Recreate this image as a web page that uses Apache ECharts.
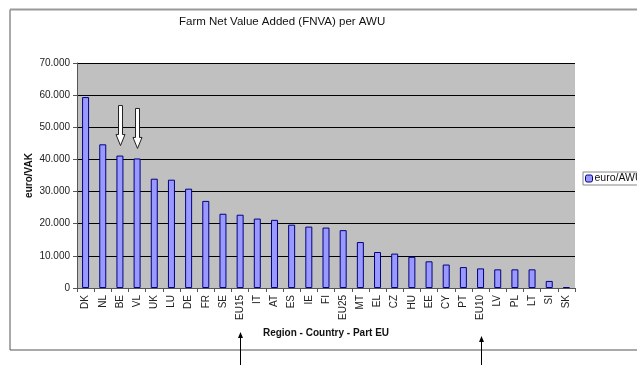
<!DOCTYPE html>
<html>
<head>
<meta charset="utf-8">
<script src="https://cdn.jsdelivr.net/npm/echarts@6/dist/echarts.min.js"></script>
<style>html,body{margin:0;padding:0;background:#fff;}#c{width:637px;height:365px;}</style>
</head>
<body>
<div id="c"></div>
<script>
const categories = ['DK','NL','BE','VL','UK','LU','DE','FR','SE','EU15','IT','AT','ES','IE','FI','EU25','MT','EL','CZ','HU','EE','CY','PT','EU10','LV','PL','LT','SI','SK'];
const values = [59400,44700,41200,40300,34000,33700,30900,27100,23100,22800,21600,21200,19700,19100,18800,18000,14300,11200,10700,9700,8300,7300,6500,6100,5800,5800,5800,2200,300];
const seriesName = 'euro/AWU';
const yTicks = [0,10000,20000,30000,40000,50000,60000,70000];
const whiteArrowAt = ['BE','VL'];
const blackArrowAt = ['EU15','EU10'];

const chart = echarts.init(document.getElementById('c'), null, {renderer:'canvas'});
function fmt(v){ return v === 0 ? '0' : String(v).replace(/\B(?=(\d{3})+(?!\d))/g, '.'); }
const option = {
  animation:false,
  backgroundColor:'#fff',
  title:{text:'Farm Net Value Added (FNVA) per AWU', left:174, top:11,
    textStyle:{fontFamily:'Liberation Sans, Arial', fontSize:11.5, fontWeight:'normal', color:'#111'}},
  legend:{data:[seriesName], left:583, top:172, orient:'vertical', itemWidth:7, itemHeight:7, itemGap:0,
    padding:[1,3,1,2], borderColor:'#888', borderWidth:1, backgroundColor:'#fff',
    textStyle:{fontFamily:'Liberation Sans, Arial', fontSize:10.5, color:'#111', padding:[0,0,0,-3]},
    itemStyle:{borderColor:'#000080', borderWidth:1}},
  grid:{left:77, right:62, top:63, bottom:77, show:true, backgroundColor:'#c0c0c0', borderWidth:0},
  xAxis:{type:'category', data:categories, boundaryGap:true,
    name:'Region - Country - Part EU', nameLocation:'middle', nameGap:40,
    nameTextStyle:{fontFamily:'Liberation Sans, Arial', fontSize:10, fontWeight:'bold', color:'#111'},
    axisLine:{lineStyle:{color:'#555', width:1}},
    axisTick:{show:true, length:4, lineStyle:{color:'#555'}},
    axisLabel:{rotate:90, interval:0, margin:7, fontFamily:'Liberation Sans, Arial', fontSize:10, color:'#222'}},
  yAxis:{type:'value', min:0, max:70000, interval:10000,
    name:'euro/VAK', nameLocation:'middle', nameGap:43, nameMoveOverlap:false,
    nameTextStyle:{fontFamily:'Liberation Sans, Arial', fontSize:10, fontWeight:'bold', color:'#111'},
    axisLine:{show:true, lineStyle:{color:'#555', width:1}},
    axisTick:{show:true, length:4, lineStyle:{color:'#555'}},
    splitLine:{lineStyle:{color:'#000', width:1}},
    axisLabel:{formatter:fmt, margin:7, fontFamily:'Liberation Sans, Arial', fontSize:10, color:'#222'}},
  series:[{name:seriesName, type:'bar', data:values, barWidth:7,
    itemStyle:{color:'#9999ff', borderColor:'#000080', borderWidth:1}}]
};
chart.setOption(option);

const g = [];
g.push({type:'rect', shape:{x:10, y:9.5, width:700, height:340.5}, style:{fill:null, stroke:'#555', lineWidth:1}, z:-1, silent:true});
g.push({type:'line', shape:{x1:10, y1:9.5, x2:637, y2:9.5}, style:{stroke:'#999', lineWidth:2}, silent:true});
whiteArrowAt.forEach(function(c){
  const i = categories.indexOf(c);
  const p = chart.convertToPixel({seriesIndex:0}, [i, values[i]]);
  const x = Math.round(p[0]) + 0.5, tip = p[1] - 10, top = tip - 40, hy = tip - 11;
  g.push({type:'polygon', shape:{points:[[x-2,top],[x+2,top],[x+2,hy],[x+4.5,hy],[x,tip],[x-4.5,hy],[x-2,hy]]},
    style:{fill:'#fff', stroke:'#222', lineWidth:1}, z:100, silent:true});
});
blackArrowAt.forEach(function(c, k){
  const x = Math.round(chart.convertToPixel({xAxisIndex:0}, c)) + 0.5;
  const tip = k === 0 ? 332 : 336;
  g.push({type:'line', shape:{x1:x, y1:tip+4, x2:x, y2:370}, style:{stroke:'#000', lineWidth:1}, silent:true});
  g.push({type:'polygon', shape:{points:[[x,tip],[x+2.5,tip+6],[x-2.5,tip+6]]}, style:{fill:'#000'}, silent:true});
});
chart.setOption({graphic:g});
</script>
</body>
</html>
